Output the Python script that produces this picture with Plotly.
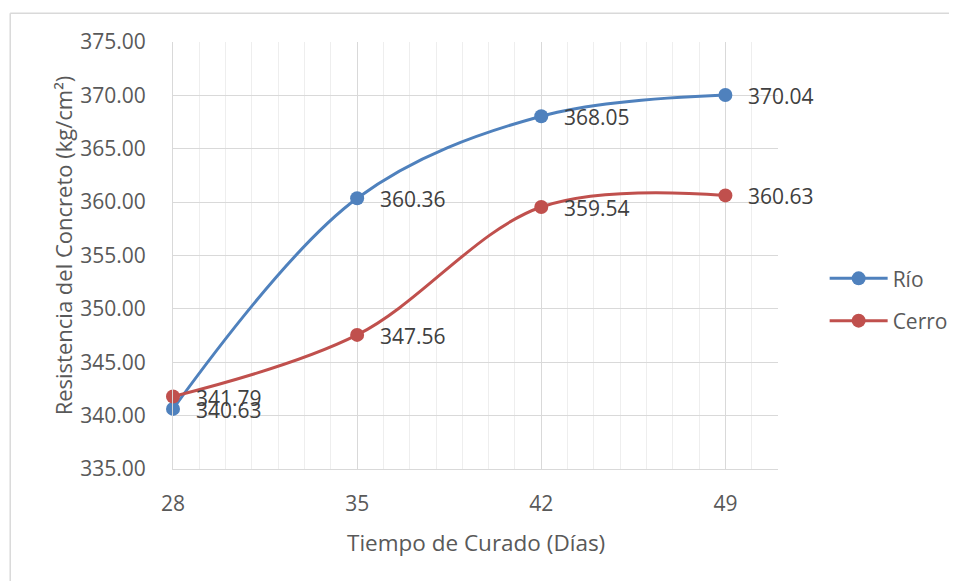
import plotly.graph_objects as go

dias = [28, 35, 42, 49]
rio = [340.63, 360.36, 368.05, 370.04]
cerro = [341.79, 347.56, 359.54, 360.63]
y_ticks = [335, 340, 345, 350, 355, 360, 365, 370, 375]

FONT = "Open Sans, Segoe UI, Calibri, sans-serif"
BLUE = "#4f81bd"
RED = "#c0504d"

W, H = 957, 581
OFF = 8  # page body offset in the browser
# screen-space plot area of the reference
SL, ST, SR, SB = 172.5, 42.3, 778.3, 469.3
L, T = SL - OFF, ST - OFF
R, B = W - (SR - OFF), H - (SB - OFF)
PW, PH = W - L - R, H - T - B

def px_x(sx):
    return (sx - OFF - L) / PW

def px_y(sy):
    return (H - B - (sy - OFF)) / PH

fig = go.Figure()
series = [("Río", rio, BLUE, "a"), ("Cerro", cerro, RED, "b")]
for name, vals, col, grp in series:
    fig.add_trace(go.Scatter(
        x=dias, y=vals, name=name, mode="lines+markers",
        line=dict(color=col, width=3, shape="spline", smoothing=1),
        marker=dict(color=col, size=14),
        legendgroup=grp, cliponaxis=False,
    ))

annotations = []
for name, vals, col, grp in series:
    for d, v in zip(dias, vals):
        annotations.append(dict(
            x=d, y=v, xref="x", yref="y", text=f"{v:.2f}", showarrow=False,
            xanchor="left", yanchor="middle", xshift=21, yshift=-1,
            font=dict(family=FONT, size=21, color="#404040")))

annotations += [
    dict(text="Tiempo de Curado (Días)", xref="paper", yref="paper",
         x=0.5, y=px_y(543), xanchor="center", yanchor="middle", showarrow=False,
         font=dict(family=FONT, size=22.5, color="#595959")),
    dict(text="Resistencia del Concreto (kg/cm²)", xref="paper", yref="paper",
         x=px_x(62), y=px_y(246), xanchor="center", yanchor="middle", showarrow=False,
         textangle=-90, font=dict(family=FONT, size=22, color="#595959")),
]

fig.update_layout(
    width=W, height=H, autosize=False,
    margin=dict(l=L, r=R, t=T, b=B),
    paper_bgcolor="white", plot_bgcolor="white",
    font=dict(family=FONT, size=21, color="#595959"),
    showlegend=True,
    legend=dict(x=px_x(825), xanchor="left", y=px_y(300), yanchor="middle",
                font=dict(family=FONT, size=21, color="#595959"),
                tracegroupgap=12, itemwidth=58, bgcolor="rgba(0,0,0,0)"),
    xaxis=dict(range=[28, 51], tickvals=dias, ticktext=[str(d) for d in dias],
               showgrid=True, gridcolor="#d9d9d9", gridwidth=1,
               minor=dict(dtick=1, tick0=28, showgrid=True, gridcolor="#eeeeee", gridwidth=1),
               showline=True, linecolor="#d9d9d9", linewidth=1,
               ticks="", ticklabelstandoff=16, zeroline=False,
               tickfont=dict(family=FONT, size=21, color="#595959")),
    yaxis=dict(range=[335, 375], tickvals=y_ticks,
               ticktext=[f"{v:.2f}" for v in y_ticks],
               showgrid=True, gridcolor="#d9d9d9", gridwidth=1,
               showline=True, linecolor="#d9d9d9", linewidth=1,
               ticks="", ticklabelstandoff=22, zeroline=False,
               tickfont=dict(family=FONT, size=21, color="#595959")),
    annotations=annotations,
    shapes=[
        dict(type="line", xref="paper", yref="paper", x0=px_x(9.5), x1=px_x(1000),
             y0=px_y(13.5), y1=px_y(13.5), line=dict(color="#d9d9d9", width=1.5), layer="below"),
        dict(type="line", xref="paper", yref="paper", x0=px_x(9.5), x1=px_x(9.5),
             y0=px_y(13.5), y1=px_y(700), line=dict(color="#d9d9d9", width=1.5), layer="below"),
    ],
)

fig.write_html("out.html")
